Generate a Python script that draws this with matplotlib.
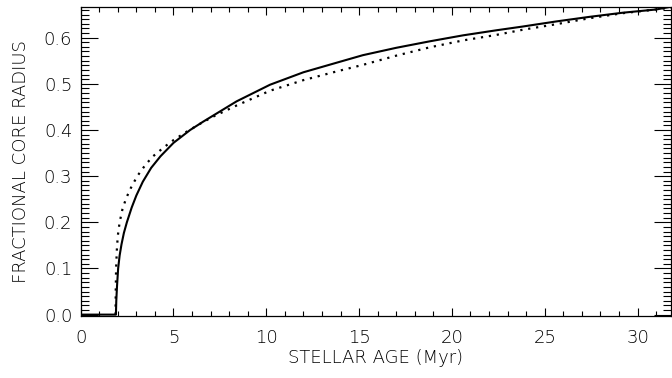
import numpy as np
import matplotlib.pyplot as plt
from matplotlib.ticker import MultipleLocator, FormatStrFormatter

plt.rcParams['font.family'] = ['DejaVu Sans']
plt.rcParams['font.weight'] = 'light'
plt.rcParams['axes.labelweight'] = 'light'

# solid curve
age_solid = [0.0, 1.9, 1.92, 1.96, 2.02, 2.1, 2.2, 2.33, 2.49, 2.75, 3.0, 3.35, 3.8,
             4.3, 5.0, 5.9, 6.6, 8.4, 10.2, 12.0, 13.9, 15.2, 17.0, 18.8, 20.6,
             22.4, 23.8, 25.6, 27.4, 29.2, 31.0, 31.8]
rad_solid = [0.0, 0.0, 0.03, 0.062, 0.1, 0.128, 0.152, 0.177, 0.2, 0.232, 0.258, 0.288,
             0.318, 0.343, 0.372, 0.4, 0.418, 0.462, 0.498, 0.525, 0.547, 0.562, 0.578,
             0.592, 0.605, 0.616, 0.624, 0.635, 0.645, 0.654, 0.661, 0.667]

# dotted curve
age_dot = [1.88, 1.89, 1.91, 1.95, 2.0, 2.1, 2.25, 2.45, 2.7, 3.05, 3.5, 3.9, 4.5,
           5.0, 5.7, 6.5, 7.14, 8.4, 10.2, 12.0, 13.9, 15.2, 17.0, 18.8, 20.6,
           22.4, 23.8, 25.6, 27.4, 29.2, 31.0, 31.8]
rad_dot = [0.0, 0.05, 0.1, 0.14, 0.17, 0.2, 0.228, 0.252, 0.274, 0.3, 0.325, 0.343,
           0.363, 0.378, 0.396, 0.415, 0.429, 0.453, 0.485, 0.508, 0.528, 0.541,
           0.561, 0.579, 0.594, 0.606, 0.617, 0.629, 0.642, 0.653, 0.661, 0.665]

fig = plt.figure(figsize=(6.72, 3.78), dpi=100)
ax = fig.add_axes([0.120, 0.164, 0.8785, 0.817])

ax.plot(age_solid, rad_solid, color='black', lw=1.5)
ax.plot(age_dot, rad_dot, color='black', lw=1.6, linestyle=(0, (1, 2.6)))

ax.set_xlim(0, 31.8)
ax.set_ylim(-0.003, 0.666)

ax.xaxis.set_major_locator(MultipleLocator(5))
ax.xaxis.set_minor_locator(MultipleLocator(1))
ax.yaxis.set_major_locator(MultipleLocator(0.1))
ax.yaxis.set_minor_locator(MultipleLocator(0.01))
ax.yaxis.set_major_formatter(FormatStrFormatter('%.1f'))

ax.tick_params(axis='x', which='major', direction='in', length=6, width=0.8,
               top=True, bottom=True, pad=9, labelsize=13, labelcolor='black')
ax.tick_params(axis='x', which='minor', direction='in', length=3.5, width=0.8,
               top=True, bottom=True)
ax.tick_params(axis='y', which='major', direction='in', length=12, width=0.8,
               left=True, right=True, pad=6, labelsize=13, labelcolor='black')
ax.tick_params(axis='y', which='minor', direction='in', length=6, width=0.8,
               left=True, right=True)

for s in ax.spines.values():
    s.set_linewidth(0.9)

ax.set_xlabel('STELLAR AGE (Myr)', fontsize=13, labelpad=2)
ax.set_ylabel('FRACTIONAL CORE RADIUS', fontsize=13, labelpad=10)

fig.savefig('out.png', dpi=100)
